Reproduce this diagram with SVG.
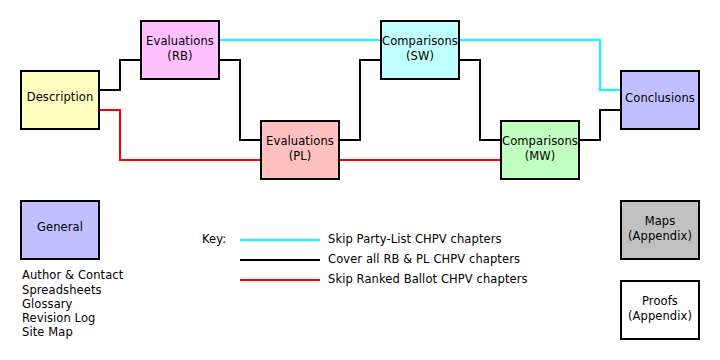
<svg xmlns="http://www.w3.org/2000/svg" width="720" height="360" viewBox="0 0 720 360">
<style>
.box{stroke:#000;stroke-width:2}
text{font-family:"DejaVu Sans","Verdana",sans-serif;font-size:11.5px;letter-spacing:0.1px;fill:#000}
.c{text-anchor:middle}
.ln{fill:none;stroke-width:2}
.cy{stroke:#00ffff}
.bk{stroke:#000}
.rd{stroke:#ff0000}
</style>
<rect width="720" height="360" fill="#fff"/>
<g id="connectors">
<polyline class="ln bk" points="100,90 120,90 120,60 140,60"/>
<polyline class="ln rd" points="100,110 120,110 120,160 260,160"/>
<polyline class="ln cy" points="220,40 380,40"/>
<polyline class="ln bk" points="220,60 240,60 240,140 260,140"/>
<polyline class="ln bk" points="340,140 360,140 360,60 380,60"/>
<polyline class="ln rd" points="340,160 500,160"/>
<polyline class="ln cy" points="460,40 600,40 600,90 620,90"/>
<polyline class="ln bk" points="460,60 480,60 480,140 500,140"/>
<polyline class="ln bk" points="580,140 600,140 600,110 620,110"/>
</g>
<g id="description">
<rect class="box" x="21" y="71" width="78" height="58" fill="#ffffc0"/>
<text class="c" x="60" y="101">Description</text>
</g>
<g id="evaluations-rb">
<rect class="box" x="141" y="21" width="78" height="58" fill="#ffc0ff"/>
<text class="c" x="180" y="45">Evaluations</text>
<text class="c" x="180" y="60">(RB)</text>
</g>
<g id="evaluations-pl">
<rect class="box" x="261" y="121" width="78" height="58" fill="#ffc0c0"/>
<text class="c" x="300" y="145">Evaluations</text>
<text class="c" x="300" y="160">(PL)</text>
</g>
<g id="comparisons-sw">
<rect class="box" x="381" y="21" width="78" height="58" fill="#c0ffff"/>
<text class="c" x="420" y="45">Comparisons</text>
<text class="c" x="420" y="60">(SW)</text>
</g>
<g id="comparisons-mw">
<rect class="box" x="501" y="121" width="78" height="58" fill="#c0ffc0"/>
<text class="c" x="540" y="145">Comparisons</text>
<text class="c" x="540" y="160">(MW)</text>
</g>
<g id="conclusions">
<rect class="box" x="621" y="71" width="78" height="58" fill="#c0c0ff"/>
<text class="c" x="660" y="102">Conclusions</text>
</g>
<g id="general">
<rect class="box" x="21" y="201" width="78" height="58" fill="#c0c0ff"/>
<text class="c" x="60" y="231">General</text>
<text x="22" y="279">Author &amp; Contact</text>
<text x="22" y="293.5">Spreadsheets</text>
<text x="22" y="307.5">Glossary</text>
<text x="22" y="322">Revision Log</text>
<text x="22" y="336">Site Map</text>
</g>
<g id="maps">
<rect class="box" x="621" y="201" width="78" height="58" fill="#c0c0c0"/>
<text class="c" x="660" y="225">Maps</text>
<text class="c" x="660" y="239.5">(Appendix)</text>
</g>
<g id="proofs">
<rect class="box" x="621" y="281" width="78" height="58" fill="#ffffff"/>
<text class="c" x="660" y="305">Proofs</text>
<text class="c" x="660" y="319.5">(Appendix)</text>
</g>
<g id="key">
<text x="202" y="243">Key:</text>
<line class="ln cy" x1="240" y1="240" x2="320" y2="240"/>
<line class="ln bk" x1="240" y1="260" x2="320" y2="260"/>
<line class="ln rd" x1="240" y1="280" x2="320" y2="280"/>
<text x="328" y="243">Skip Party-List CHPV chapters</text>
<text x="328" y="263">Cover all RB &amp; PL CHPV chapters</text>
<text x="328" y="283">Skip Ranked Ballot CHPV chapters</text>
</g>
</svg>
